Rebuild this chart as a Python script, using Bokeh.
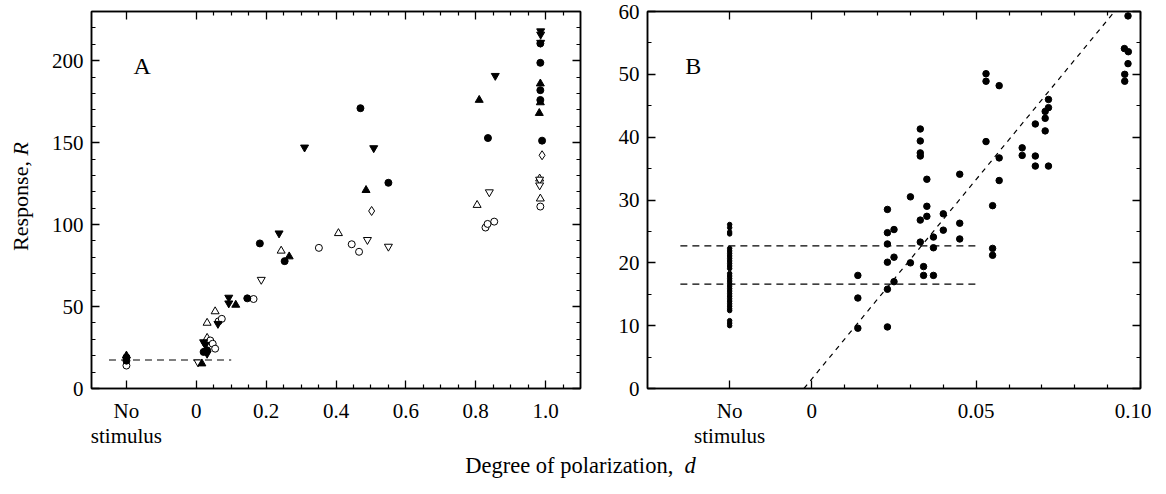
from bokeh.plotting import figure
from bokeh.models import Range1d, FixedTicker, LinearAxis, Label, CustomLabelingPolicy
from bokeh.layouts import row, column
from bokeh.embed import file_html
from bokeh.resources import INLINE
from bokeh.core.properties import value

FONT = "Liberation Serif"
TICK_FS = "21px"

# ---------------- Panel A data ----------------
a_fc_x = [-0.2, -0.2, 0.021, 0.026, 0.031, 0.146, 0.182, 0.253, 0.47, 0.55, 0.835, 0.985, 0.985, 0.985, 0.985, 0.99]
a_fc_y = [17, 19, 22.3, 22.7, 23.3, 55, 88.5, 77.7, 171, 125.5, 152.8, 210.5, 198.7, 182, 176, 151.2]

a_oc_x = [-0.2, 0.04, 0.047, 0.054, 0.064, 0.073, 0.164, 0.351, 0.445, 0.466, 0.828, 0.834, 0.853, 0.985]
a_oc_y = [14, 29.3, 27.3, 24.3, 41, 42.5, 54.6, 85.8, 88, 83.4, 98.2, 100.4, 101.8, 111]

a_ftu_x = [-0.2, 0.016, 0.113, 0.266, 0.486, 0.81, 0.985, 0.985, 0.982]
a_ftu_y = [20, 15.2, 51, 80.5, 121, 176, 186, 174.5, 168]

a_otu_x = [0.031, 0.031, 0.054, 0.243, 0.407, 0.804, 0.985, 0.983]
a_otu_y = [30.8, 40, 47, 84, 94.7, 111.9, 115.8, 128]

a_ftd_x = [0.021, 0.026, 0.031, 0.062, 0.093, 0.093, 0.237, 0.31, 0.508, 0.856, 0.986, 0.986, 0.986]
a_ftd_y = [28.3, 26.7, 21.3, 39.5, 55.5, 52, 94.7, 147.1, 146.7, 190.8, 218, 216, 211]

a_otd_x = [0.005, 0.186, 0.49, 0.55, 0.839, 0.983, 0.983]
a_otd_y = [16, 66.4, 90.7, 86.6, 119.8, 127.5, 124]

a_od_x = [0.502, 0.99]
a_od_y = [108.3, 142.3]

a_ref_x = [-0.25, 0.10]
a_ref_y = [17.4, 17.4]

a_xticks = [-0.2, 0, 0.2, 0.4, 0.6, 0.8, 1.0]
a_xlabels = ["No\nstimulus", "0", "0.2", "0.4", "0.6", "0.8", "1.0"]
a_xminor = [0.05, 0.1, 0.15, 0.25, 0.3, 0.35, 0.45, 0.5, 0.55, 0.65, 0.7, 0.75, 0.85, 0.9, 0.95, 1.05]
a_yticks = [0, 50, 100, 150, 200]
a_yminor = [10, 20, 30, 40, 60, 70, 80, 90, 110, 120, 130, 140, 160, 170, 180, 190, 210, 220]

# ---------------- Panel B data ----------------
b_ns_y = [26.1, 25.6, 24.9, 24.6, 22.3, 21.9, 21.5, 21.1, 20.7, 20.3, 19.9, 19.5, 19.1,
          18.3, 17.9, 17.5, 17.1, 16.7, 16.3, 15.9, 15.5, 15.1, 14.7, 14.3, 13.9, 13.5,
          13.1, 12.7, 12.4, 10.8, 10.4, 10.0]
b_ns_x = [-0.025] * len(b_ns_y)

b_x = [0.014, 0.014, 0.014,
       0.023, 0.023, 0.025, 0.023, 0.023, 0.025, 0.025, 0.023, 0.023,
       0.030, 0.030,
       0.033, 0.033, 0.033, 0.033, 0.033, 0.033,
       0.035, 0.035, 0.035,
       0.034, 0.034, 0.037, 0.037, 0.037,
       0.040, 0.040,
       0.045, 0.045, 0.045,
       0.053, 0.053, 0.057, 0.053,
       0.055, 0.055, 0.055,
       0.057, 0.057,
       0.064, 0.064,
       0.068, 0.068, 0.068,
       0.071, 0.071, 0.071, 0.072, 0.072, 0.072,
       0.0962, 0.0951, 0.0963, 0.0962, 0.0952, 0.0952]
b_y = [18.0, 14.4, 9.6,
       28.5, 24.8, 25.3, 23.0, 20.1, 20.9, 17.0, 15.8, 9.8,
       30.5, 20.0,
       41.3, 39.4, 37.5, 37.0, 26.8, 23.3,
       33.3, 29.0, 27.4,
       19.4, 18.0, 18.0, 24.1, 22.4,
       27.8, 25.2,
       34.1, 26.3, 23.8,
       50.1, 48.9, 48.2, 39.3,
       29.1, 22.3, 21.2,
       36.7, 33.1,
       38.3, 37.1,
       42.1, 37.0, 35.4,
       41.0, 43.0, 44.1, 44.7, 46.0, 35.4,
       59.3, 54.1, 53.6, 51.7, 50.0, 48.9]

b_ref_x = [-0.04, 0.05]
b_ref1_y = [22.7, 22.7]
b_ref2_y = [16.6, 16.6]
b_fit_x = [-0.0024, 0.0921]
b_fit_y = [0, 60]

b_xticks = [-0.025, 0, 0.05, 0.1]
b_xlabels = ["No\nstimulus", "0", "0.05", "0.10"]
b_xminor = [0.01, 0.02, 0.03, 0.04, 0.06, 0.07, 0.08, 0.09]
b_yticks = [0, 10, 20, 30, 40, 50, 60]
b_yminor = [5, 15, 25, 35, 45, 55]

H = 450
FRAME_TOP = 11
FRAME_BOTTOM = 60
YL_W = 48
A_W = 560
B_W = 543


def style_axis(ax, ticks, minor, overrides=None, labels=True, standoff=10):
    ax.ticker = FixedTicker(ticks=ticks, minor_ticks=minor)
    ax.axis_line_color = "black"
    ax.axis_line_width = 1.5
    ax.major_tick_in = 8
    ax.major_tick_out = 0
    ax.minor_tick_in = 4
    ax.minor_tick_out = 0
    ax.major_tick_line_width = 1.3
    ax.minor_tick_line_width = 1.2
    ax.major_tick_line_color = "black"
    ax.minor_tick_line_color = "black"
    ax.axis_label = None
    if labels:
        ax.major_label_text_font = FONT
        ax.major_label_text_font_size = TICK_FS
        ax.major_label_text_color = "black"
        ax.major_label_text_line_height = 1.05
        ax.major_label_standoff = standoff
        if overrides:
            ax.major_label_overrides = overrides
    else:
        ax.major_label_policy = CustomLabelingPolicy(code="return [];")
        ax.major_label_text_font_size = "0px"
        ax.major_label_standoff = 0


def make_panel(width, xr, yr, bl, br):
    p = figure(width=width, height=H, x_range=Range1d(*xr), y_range=Range1d(*yr),
               output_backend="svg", toolbar_location=None,
               min_border_left=bl, min_border_right=br,
               min_border_top=FRAME_TOP, min_border_bottom=FRAME_BOTTOM)
    p.xgrid.visible = False
    p.ygrid.visible = False
    p.outline_line_color = "black"
    p.outline_line_width = 1.5
    p.background_fill_color = "white"
    p.border_fill_color = "white"
    return p


# ---------------- Panel A ----------------
pA = make_panel(A_W, (-0.3, 1.1), (0, 230), 42, 28)
style_axis(pA.xaxis[0], a_xticks, a_xminor, dict(zip(a_xticks, a_xlabels)), standoff=10)
style_axis(pA.yaxis[0], a_yticks, a_yminor, {t: str(t) for t in a_yticks}, standoff=8)
ax_top = LinearAxis()
style_axis(ax_top, a_xticks, a_xminor, labels=False)
pA.add_layout(ax_top, "above")
ax_right = LinearAxis()
style_axis(ax_right, a_yticks, a_yminor, labels=False)
pA.add_layout(ax_right, "right")

pA.line(a_ref_x, a_ref_y, line_color="black", line_width=1.2, line_dash="7 5")
sz_c, sz_t = 7, 8
pA.scatter(a_otu_x, a_otu_y, marker="triangle", size=sz_t, fill_color="white", line_color="black", line_width=1)
pA.scatter(a_otd_x, a_otd_y, marker="inverted_triangle", size=sz_t, fill_color="white", line_color="black", line_width=1)
pA.scatter(a_oc_x, a_oc_y, marker="circle", size=sz_c, fill_color="white", line_color="black", line_width=1)
pA.scatter(a_od_x, a_od_y, marker="diamond", size=9, fill_color="white", line_color="black", line_width=1)
pA.scatter(a_fc_x, a_fc_y, marker="circle", size=sz_c, fill_color="black", line_color="black")
pA.scatter(a_ftu_x, a_ftu_y, marker="triangle", size=sz_t, fill_color="black", line_color="black")
pA.scatter(a_ftd_x, a_ftd_y, marker="inverted_triangle", size=sz_t, fill_color="black", line_color="black")
pA.add_layout(Label(x=-0.18, y=197, text="A", text_font=FONT, text_font_size="24px",
                    text_color="black", text_baseline="alphabetic"))

# ---------------- Panel B ----------------
pB = make_panel(B_W, (-0.05, 0.10), (0, 60), 39, 11)
style_axis(pB.xaxis[0], b_xticks, b_xminor, dict(zip(b_xticks, b_xlabels)), standoff=10)
style_axis(pB.yaxis[0], b_yticks, b_yminor, {t: str(t) for t in b_yticks}, standoff=8)
bx_top = LinearAxis()
style_axis(bx_top, b_xticks, b_xminor, labels=False)
pB.add_layout(bx_top, "above")
bx_right = LinearAxis()
style_axis(bx_right, b_yticks, b_yminor, labels=False)
pB.add_layout(bx_right, "right")

pB.line(b_ref_x, b_ref1_y, line_color="black", line_width=1.2, line_dash="7 5")
pB.line(b_ref_x, b_ref2_y, line_color="black", line_width=1.2, line_dash="7 5")
pB.line(b_fit_x, b_fit_y, line_color="black", line_width=1.2, line_dash="5 5")
pB.scatter(b_ns_x, b_ns_y, marker="circle", size=4.5, fill_color="black", line_color="black")
pB.scatter(b_x, b_y, marker="circle", size=6.5, fill_color="black", line_color="black")
pB.add_layout(Label(x=-0.0385, y=51.4, text="B", text_font=FONT, text_font_size="24px",
                    text_color="black", text_baseline="alphabetic"))

# ---------------- y label strip ----------------
pY = figure(width=YL_W, height=H, x_range=Range1d(0, YL_W), y_range=Range1d(0, H),
            output_backend="svg", toolbar_location=None, min_border=0,
            x_axis_type=None, y_axis_type=None)
pY.xgrid.visible = False
pY.ygrid.visible = False
pY.outline_line_color = None
pY.text(x=[20], y=[278], text=["Response, "], angle=1.5708, text_align="right",
        text_baseline="middle", text_font=value(FONT), text_font_size="22px", text_color="black")
pY.text(x=[20], y=[278], text=["R"], angle=1.5708, text_align="left",
        text_baseline="middle", text_font=value(FONT), text_font_size="22px",
        text_font_style="italic", text_color="black")

# ---------------- x label strip ----------------
W = YL_W + A_W + B_W
pX = figure(width=W, height=40, x_range=Range1d(0, W), y_range=Range1d(0, 40),
            output_backend="svg", toolbar_location=None, min_border=0,
            x_axis_type=None, y_axis_type=None)
pX.xgrid.visible = False
pX.ygrid.visible = False
pX.outline_line_color = None
pX.text(x=[684], y=[25], text=["Degree of polarization,  "], text_align="right",
        text_baseline="middle", text_font=value(FONT), text_font_size="22.5px", text_color="black")
pX.text(x=[684], y=[25], text=["d"], text_align="left",
        text_baseline="middle", text_font=value(FONT), text_font_size="22.5px",
        text_font_style="italic", text_color="black")

layout = column(row(pY, pA, pB), pX)
open("out.html", "w").write(file_html(layout, INLINE))
